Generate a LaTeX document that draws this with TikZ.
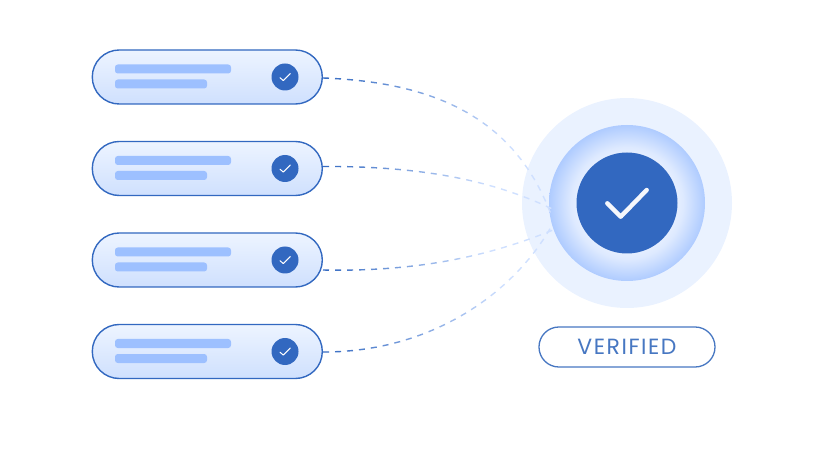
\documentclass[tikz,border=0pt]{standalone}
\usepackage{fontspec}
\setmainfont[LetterSpace=7]{Poppins}
\usetikzlibrary{decorations.markings,calc}
\definecolor{deep}{HTML}{3268C0}
\definecolor{faint}{HTML}{CFE0FF}
\definecolor{barblue}{HTML}{9DC0FF}
\definecolor{halo}{HTML}{EAF2FF}
\definecolor{pilltop}{HTML}{EDF4FF}
\definecolor{pillbot}{HTML}{CFE0FE}
\definecolor{labelblue}{HTML}{4777C2}
\pgfdeclareradialshading{hubglow}{\pgfpoint{0bp}{0bp}}{%
  color(0bp)=(white); color(14bp)=(white!80!barblue); color(18bp)=(white!66!barblue); color(25bp)=(white!18!barblue); color(50bp)=(white!18!barblue)}
\tikzset{
  x=1pt,y=-1pt,
  pillbox/.style={draw=deep,line width=1.4pt,rounded corners=26.9pt,minimum width=230pt,minimum height=54pt,inner sep=0pt,top color=pilltop,bottom color=pillbot,shading angle=0},
  barlong/.style={fill=barblue,rounded corners=2.8pt,minimum width=116pt,minimum height=9pt,inner sep=0pt},
  barshort/.style={barlong,minimum width=92pt},
  tick/.style={circle,fill=deep,minimum size=27pt,inner sep=0pt},
  tickline/.style={draw=white,line width=1pt,line cap=round,line join=round},
  fadedash/.style={decoration={markings,mark=between positions 0 and 1 step 6pt with {%
      \pgfmathsetmacro\fadeval{max(0,100*(1-1.35*\pgfkeysvalueof{/pgf/decoration/mark info/sequence number}*6/\pgfdecoratedpathlength))}%
      \ifodd\pgfkeysvalueof{/pgf/decoration/mark info/sequence number}\relax
        \draw[line width=1.4pt,color=deep!\fadeval!faint] (0pt,0pt) -- (6pt,0pt);
      \fi}},decorate},
}
\begin{document}
\begin{tikzpicture}
\useasboundingbox (0,0) rectangle (828,465);
% hub
\node[circle,fill=halo,minimum size=210pt,inner sep=0pt] (halo) at (627,203) {};
\node[circle,shading=hubglow,minimum size=156pt,inner sep=0pt] (glow) at (627,203) {};
% rows
\foreach \n/\y in {1/77,2/168.5,3/260,4/351.5}{
  \node[pillbox] (pill\n) at (207.3,\y) {};
  \node[barlong] (barA\n) at (173,\y-8) {};
  \node[barshort] (barB\n) at (161,\y+7) {};
  \node[tick] (tick\n) at (285,\y) {};
  \draw[tickline] ($(tick\n.center)+(-5,0.7)$) -- ($(tick\n.center)+(-1.7,3.6)$) -- ($(tick\n.center)+(5.3,-3.5)$);
}
\coordinate (endA) at ($(glow.center)+(-79,4)$);
\coordinate (endB) at ($(glow.center)+(-79,29)$);
\coordinate (s1) at ($(pill1.east)+(0,1)$);
\coordinate (s2) at ($(pill2.east)+(0,-2)$);
\coordinate (s3) at ($(pill3.east)+(0,10)$);
\coordinate (s4) at ($(pill4.east)+(0,0.5)$);
% connectors
\path[fadedash] (s1) .. controls (430,82) and (510,115) .. (endA);
\path[fadedash] (s2) .. controls (420,166) and (490,180) .. (endA);
\path[fadedash] (s3) .. controls (420,272) and (490,255) .. (endB);
\path[fadedash] (s4) .. controls (430,352) and (510,295) .. (endB);
% centre disc
\node[circle,fill=deep,minimum size=101pt,inner sep=0pt] (core) at (627,203) {};
\draw[draw=white!95!deep,line width=4.4pt,line cap=round,line join=round] ($(core.center)+(-19.7,0.3)$) -- ($(core.center)+(-6.3,13.7)$) -- ($(core.center)+(19.7,-13)$);
% badge
\node[draw=labelblue,line width=1.3pt,fill=white,rounded corners=19.9pt,minimum width=176pt,minimum height=40pt,inner sep=0pt,text=labelblue,font=\fontsize{22}{22}\selectfont] (badge) at (627,347) {VERIFIED};
\end{tikzpicture}
\end{document}
